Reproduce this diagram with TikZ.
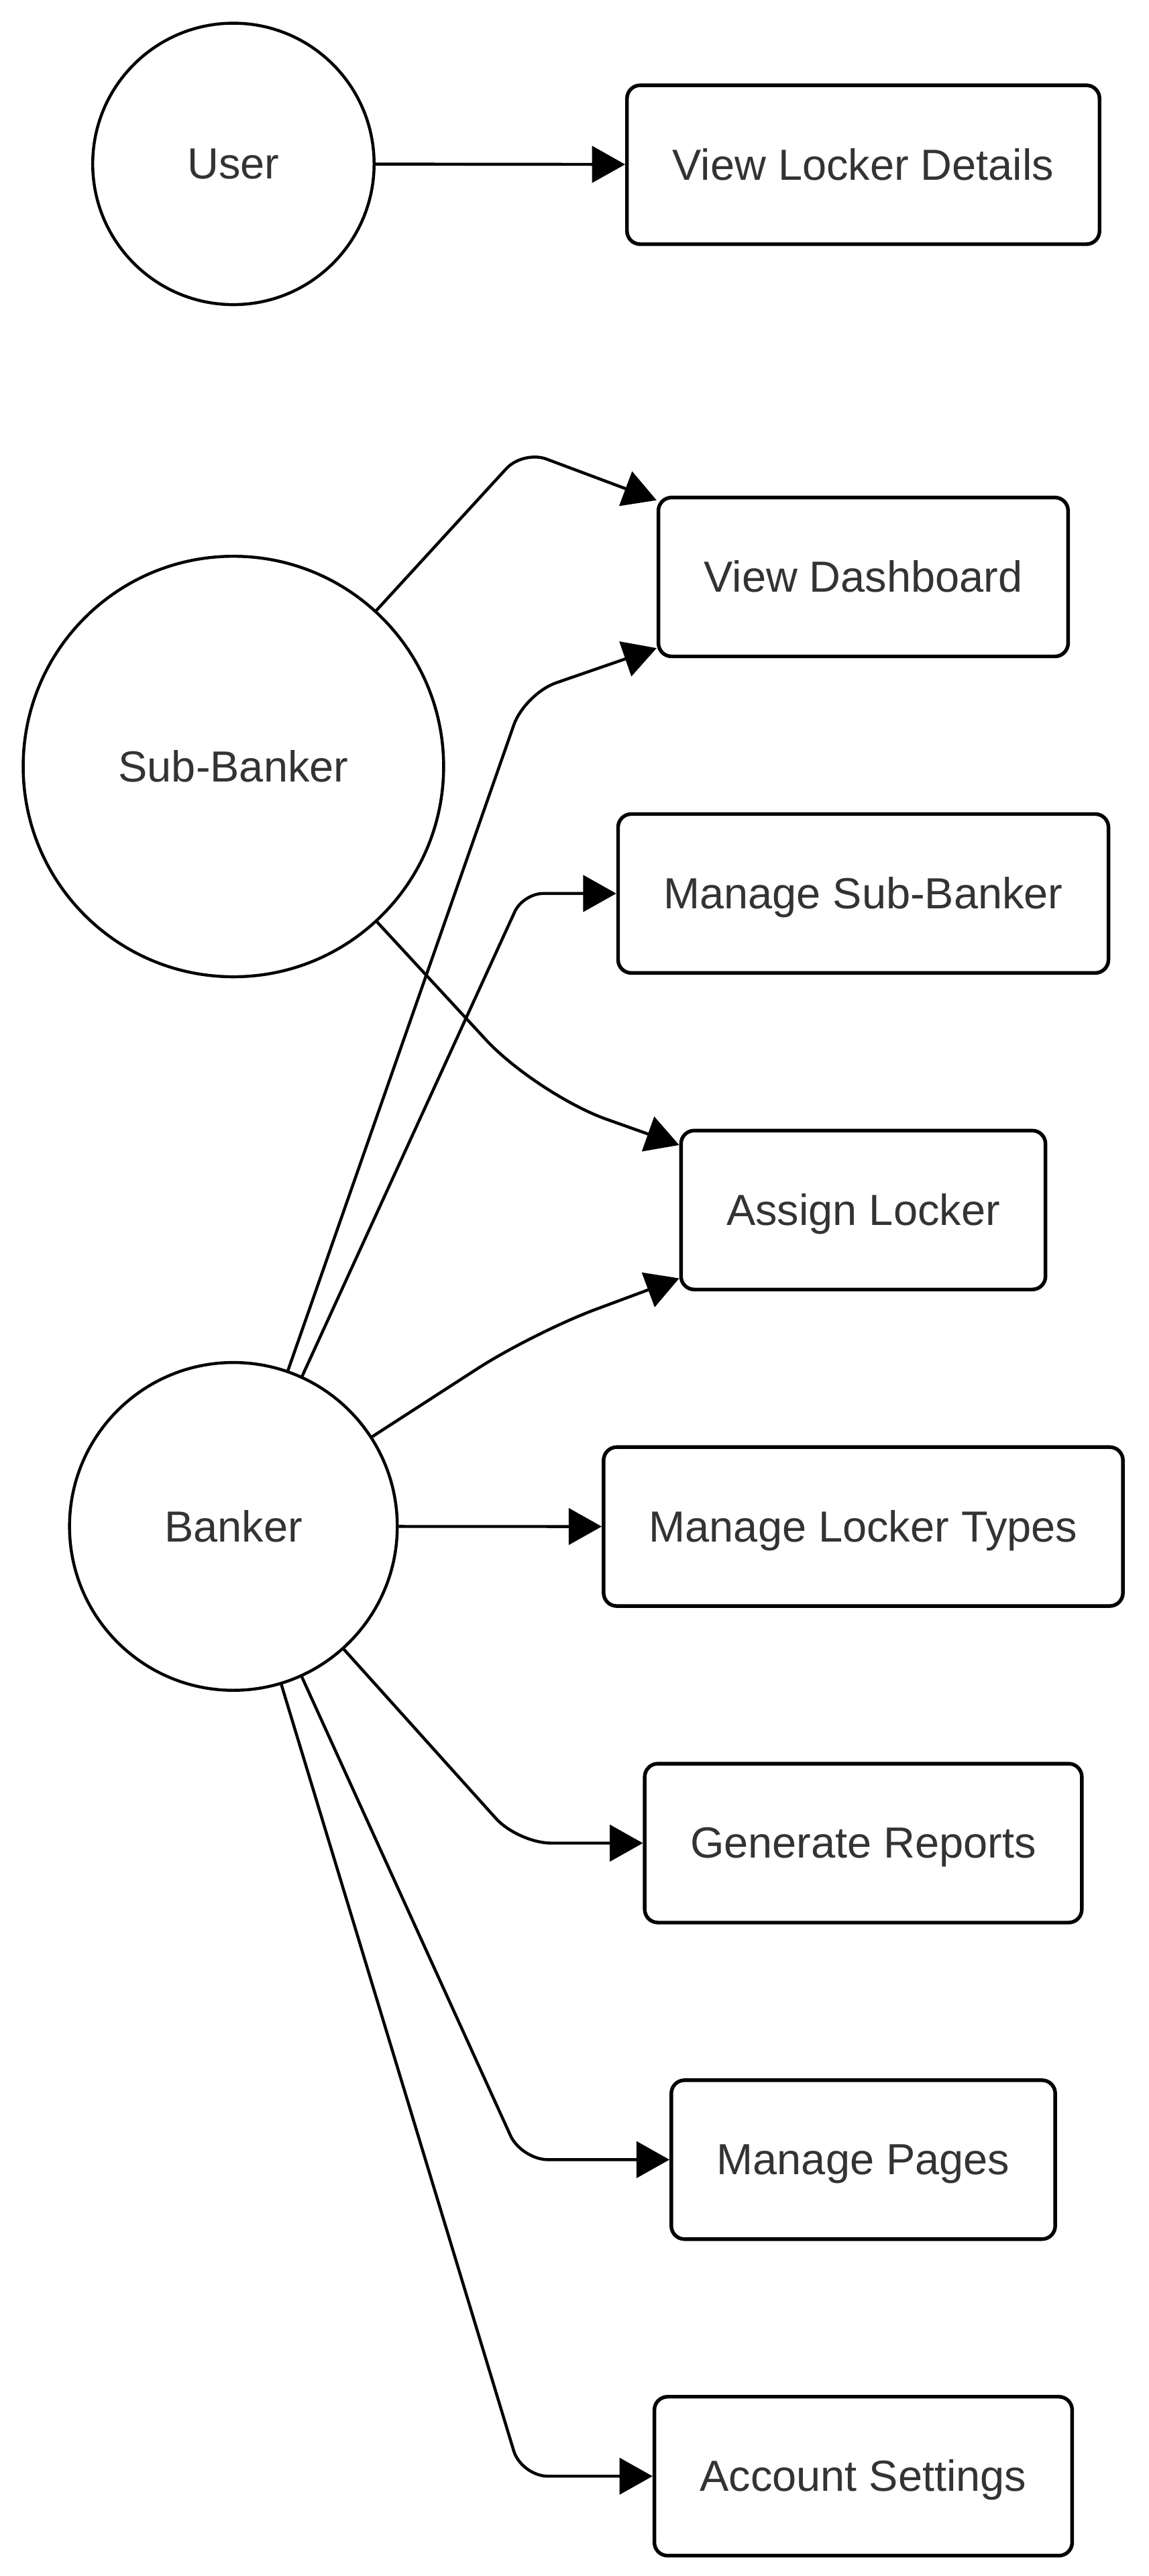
\documentclass[tikz,border=0pt]{standalone}
\usepackage{fontspec}
\setmainfont{Liberation Sans}
\usepackage{tikz}
\usepackage{xcolor}
\usetikzlibrary{arrows.meta,positioning}
\definecolor{labelgrey}{HTML}{333333}

\begin{document}
\begin{tikzpicture}[x=1pt,y=-1pt,node distance=191.2pt,
font=\fontsize{26.3pt}{31pt}\selectfont,
actor node/.style = {circle,draw,line width=1.8pt,text=labelgrey,inner sep=0pt},
task node/.style = {rectangle,draw,rounded corners=8pt,line width=2.2pt,text=labelgrey,
  minimum height=96pt,inner xsep=27.5pt,text height=23.8pt,text depth=5.6pt},
edge/.style = {line width=1.8pt,-{Triangle[length=20pt,width=22pt]}}]
\useasboundingbox (0,0) rectangle (694,1556);

\node[actor node,minimum size=170pt] at (141,99) (u) {User};
\node[actor node,minimum size=254pt] at (141,463) (s) {Sub-Banker};
\node[actor node,minimum size=198pt] at (141,922) (b) {Banker};

\node[task node] at (521.5,99.5) (1) {View Locker Details};
\node[task node] at (521.5,348.5) (2) {View Dashboard};
\node[task node] [below of = 2] (3) {Manage Sub-Banker};
\node[task node] [below of = 3] (4) {Assign Locker};
\node[task node] [below of = 4] (5) {Manage Locker Types};
\node[task node] [below of = 5] (6) {Generate Reports};
\node[task node] [below of = 6] (7) {Manage Pages};
\node[task node] [below of = 7] (8) {Account Settings};

% bends
\coordinate (k1) at (316,272);
\coordinate (k2) at (317,419);
\coordinate (k3) at (316,540);
\coordinate (k4) at (324,661);
\coordinate (k5) at (322,805);
\coordinate (k6) at (313,1114);
\coordinate (k7) at (315,1305);
\coordinate (k8) at (315,1496);

\draw[edge] (u) -- (1);
\draw[edge,rounded corners=15pt] (s) -- (k1) -- (2);
\draw[edge,rounded corners=20pt] (b) -- (k2) -- (2);
\draw[edge,rounded corners=12pt] (b) -- (k3 |- 3) -- (3);
\draw[edge,rounded corners=45pt] (s) -- (k4) -- (4);
\draw[edge,rounded corners=40pt] (b) -- (k5) -- (4);
\draw[edge] (b) -- (5);
\draw[edge,rounded corners=20pt] (b) -- (k6 |- 6) -- (6);
\draw[edge,rounded corners=16pt] (b) -- (k7 |- 7) -- (7);
\draw[edge,rounded corners=16pt] (b) -- (k8 |- 8) -- (8);
\end{tikzpicture}
\end{document}
